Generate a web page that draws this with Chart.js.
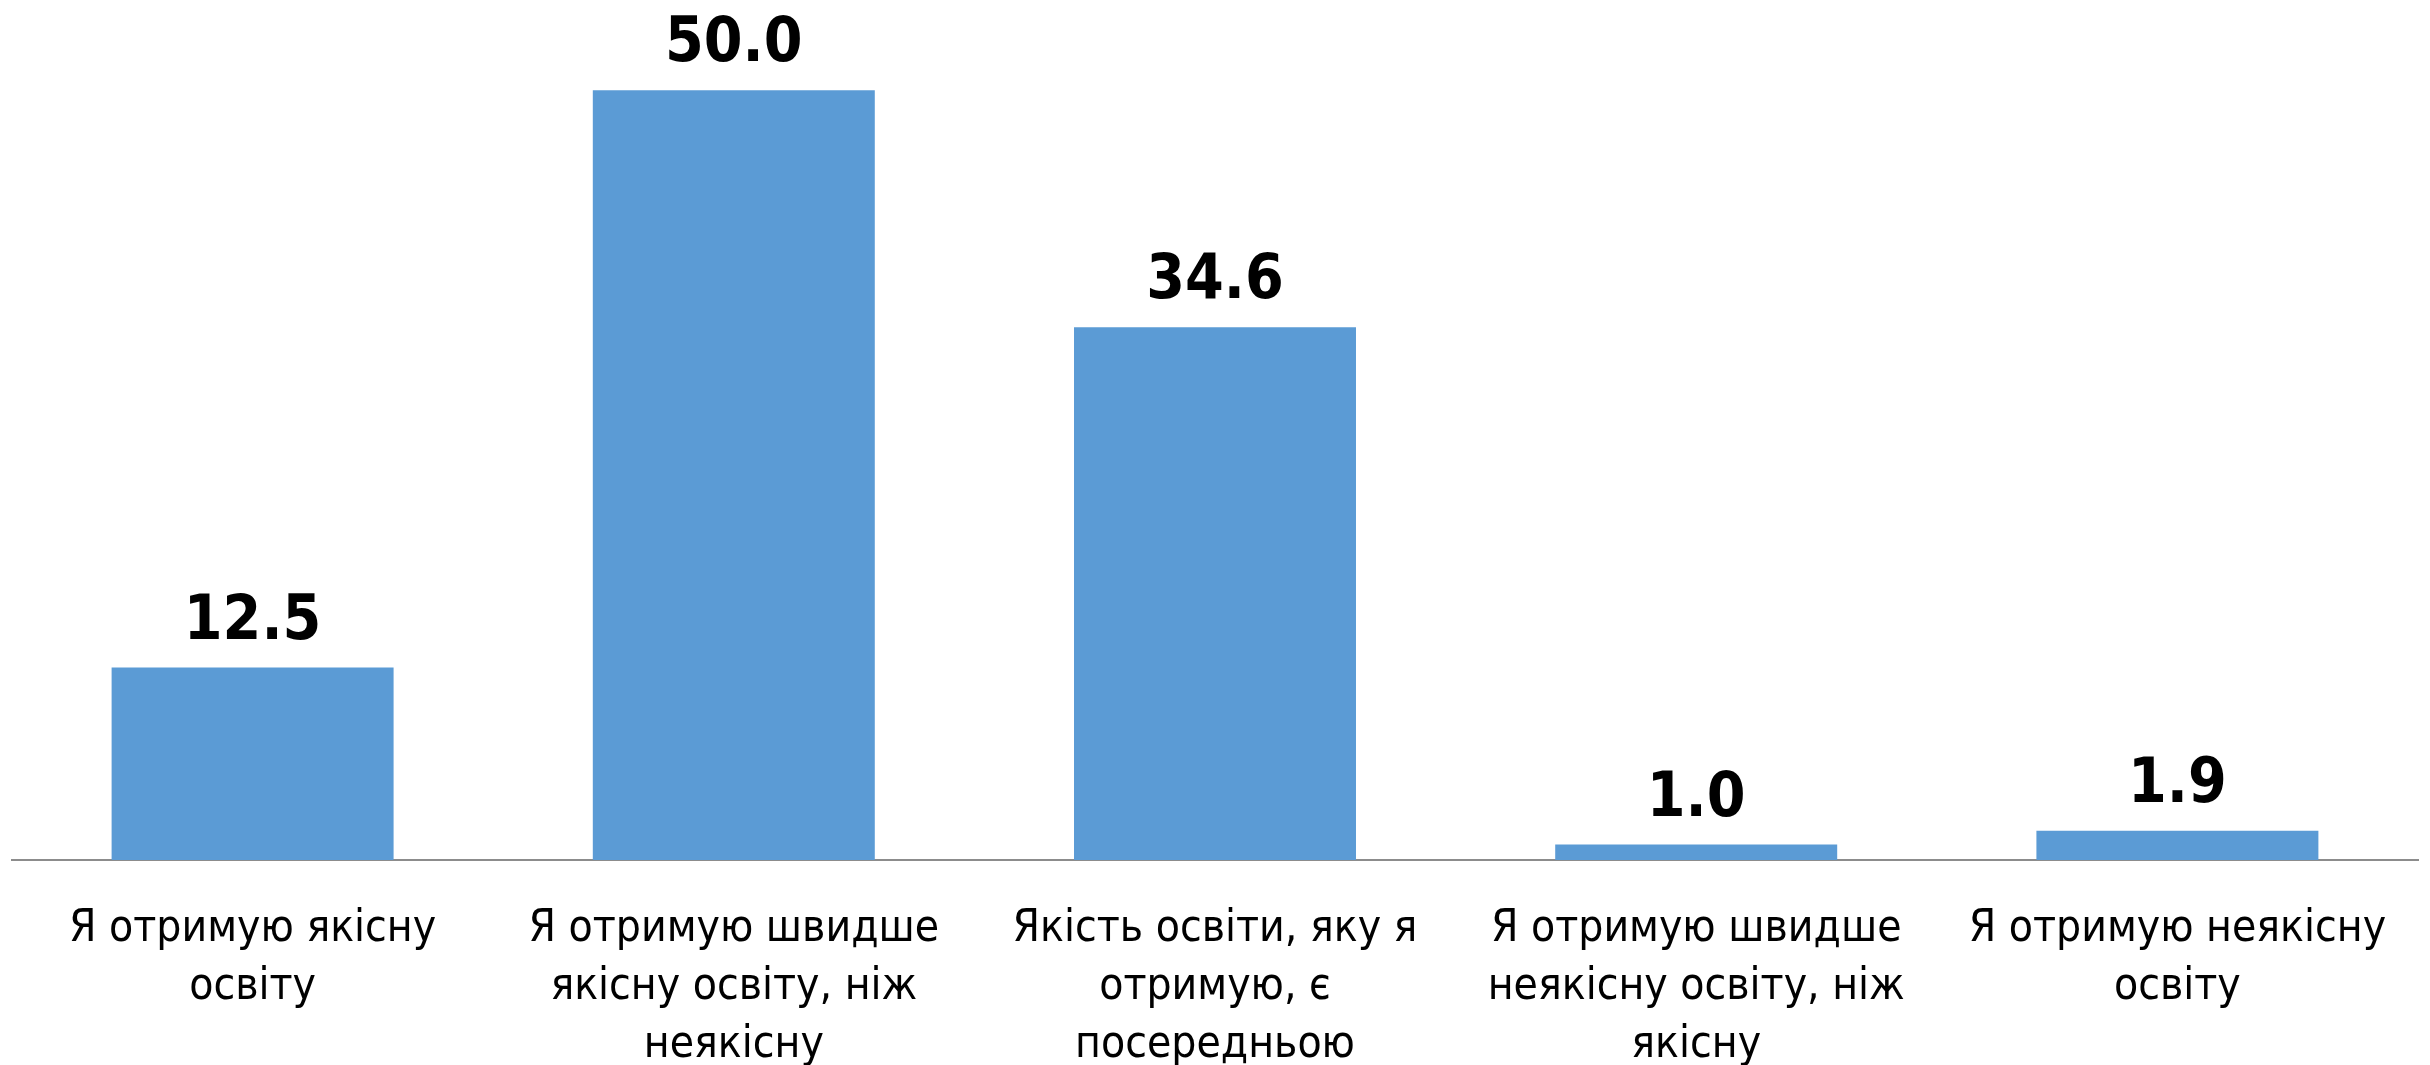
<!DOCTYPE html>
<html>
<head>
<meta charset="utf-8">
<script src="https://cdn.jsdelivr.net/npm/chart.js@4/dist/chart.umd.min.js"></script>
<style>
    html, body { margin: 0; padding: 0; background: #fff; overflow: hidden; }
    #wrap { width: 2430px; height: 1065px; }
</style>
</head>
<body>
<div id="wrap"><canvas id="qualityChart"></canvas></div>
<script>
const categories = [
    ['Я отримую якісну', 'освіту'],
    ['Я отримую швидше', 'якісну освіту, ніж', 'неякісну'],
    ['Якість освіти, яку я', 'отримую, є', 'посередньою'],
    ['Я отримую швидше', 'неякісну освіту, ніж', 'якісну'],
    ['Я отримую неякісну', 'освіту']
];
const shares = [12.5, 50.0, 34.6, 1.0, 1.9];

const fontFamily = '"DejaVu Sans Condensed", "Liberation Sans", sans-serif';

// value labels above the bars
const barValues = {
    id: 'barValues',
    afterDatasetsDraw(chart) {
        const ctx = chart.ctx;
        const meta = chart.getDatasetMeta(0);
        ctx.save();
        ctx.font = 'bold 62px ' + fontFamily;
        ctx.fillStyle = '#000';
        ctx.textAlign = 'center';
        ctx.textBaseline = 'alphabetic';
        meta.data.forEach((bar, i) => {
            ctx.fillText(shares[i].toFixed(1), bar.x, bar.y - 29);
        });
        ctx.restore();
    }
};

new Chart(document.getElementById('qualityChart'), {
    type: 'bar',
    data: {
        labels: categories,
        datasets: [{
            data: shares,
            backgroundColor: '#5B9BD5',
            categoryPercentage: 1,
            barPercentage: 0.586
        }]
    },
    options: {
        responsive: true,
        maintainAspectRatio: false,
        animation: false,
        layout: { padding: { top: 4, left: 12, right: 12, bottom: 0 } },
        plugins: {
            legend: { display: false },
            tooltip: { enabled: false }
        },
        scales: {
            x: {
                grid: { display: false, drawTicks: false },
                border: { display: true, color: '#8C8C8C', width: 2 },
                ticks: {
                    color: '#000',
                    padding: 41,
                    maxRotation: 0,
                    autoSkip: false,
                    font: { family: fontFamily, size: 44, lineHeight: 1.31 }
                },
                afterFit(scale) { scale.height = 205; }
            },
            y: {
                display: false,
                min: 0,
                max: 55.6
            }
        }
    },
    plugins: [barValues]
});
</script>
</body>
</html>
